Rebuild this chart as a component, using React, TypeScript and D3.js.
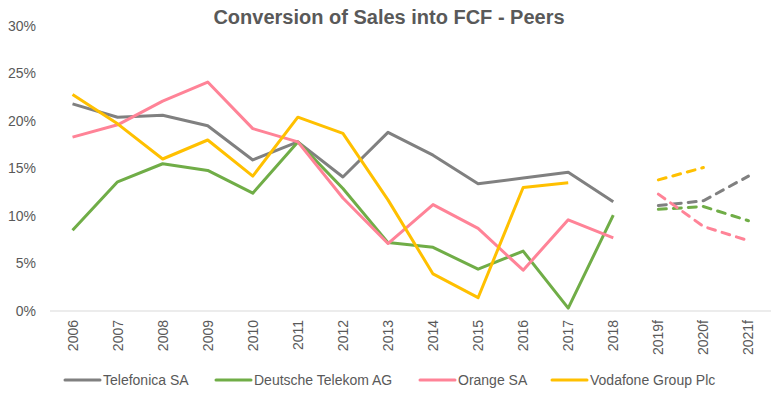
import React from "react";
import * as d3 from "d3";

// data
const years = ["2006", "2007", "2008", "2009", "2010", "2011", "2012", "2013", "2014", "2015", "2016", "2017", "2018", "2019f", "2020f", "2021f"];
const telefonica = [21.8, 20.4, 20.6, 19.5, 15.9, 17.8, 14.1, 18.8, 16.4, 13.4, 14.0, 14.6, 11.5, null, null, null];
const telefonicaF = [null, null, null, null, null, null, null, null, null, null, null, null, null, 11.1, 11.6, 14.2];
const telekom = [8.5, 13.6, 15.5, 14.8, 12.4, 17.8, 12.9, 7.2, 6.7, 4.4, 6.3, 0.3, 10.1, null, null, null];
const telekomF = [null, null, null, null, null, null, null, null, null, null, null, null, null, 10.7, 11.0, 9.5];
const orange = [18.3, 19.6, 22.1, 24.1, 19.2, 17.8, 11.9, 7.1, 11.2, 8.7, 4.3, 9.6, 7.7, null, null, null];
const orangeF = [null, null, null, null, null, null, null, null, null, null, null, null, null, 12.3, 8.9, 7.4];
const vodafone = [22.8, 19.7, 16.0, 18.0, 14.2, 20.4, 18.7, 11.7, 3.9, 1.4, 13.0, 13.5, null, null, null, null];
const vodafoneF = [null, null, null, null, null, null, null, null, null, null, null, null, null, 13.8, 15.1, null];
const yTicks = [0, 5, 10, 15, 20, 25, 30];

const series = [
  { name: "Telefonica SA", color: "#808080", actual: telefonica, forecast: telefonicaF },
  { name: "Deutsche Telekom AG", color: "#70AD47", actual: telekom, forecast: telekomF },
  { name: "Orange SA", color: "#FF8397", actual: orange, forecast: orangeF },
  { name: "Vodafone Group Plc", color: "#FFC000", actual: vodafone, forecast: vodafoneF },
];

const W = 778;
const H = 396;
const font = "'Liberation Sans', Arial, sans-serif";
const textColor = "#595959";

const App = () => {
  const x = d3.scaleBand<string>().domain(years).range([50, 771]);
  const y = d3.scaleLinear().domain([0, 30]).range([311, 26]);
  const cx = (i: number) => (x(years[i]) ?? 0) + x.bandwidth() / 2;

  const line = d3
    .line<number | null>()
    .defined((d) => d !== null)
    .x((_, i) => cx(i))
    .y((d) => y(d as number));

  // legend positions
  const legendX = [65, 216, 420, 552];

  return (
    <svg width={W} height={H} style={{ position: "absolute", left: 0, top: 0, background: "#fff" }}>
      <text x={389} y={24} textAnchor="middle" fontFamily={font} fontWeight="bold" fontSize={20} fill={textColor}>
        Conversion of Sales into FCF - Peers
      </text>

      {/* y axis labels */}
      {yTicks.map((t) => (
        <text key={t} x={36} y={y(t)} dy="0.35em" textAnchor="end" fontFamily={font} fontSize={14} fill={textColor}>
          {t}%
        </text>
      ))}

      {/* baseline */}
      <line x1={50} x2={771} y1={y(0)} y2={y(0)} stroke="#D9D9D9" strokeWidth={1} />

      {/* x labels */}
      {years.map((yr, i) => (
        <text
          key={yr}
          transform={`translate(${cx(i) + 5},${320}) rotate(-90)`}
          textAnchor="end"
          fontFamily={font}
          fontSize={14}
          fill={textColor}
        >
          {yr}
        </text>
      ))}

      {/* lines */}
      {series.map((s) => (
        <g key={s.name}>
          <path d={line(s.actual) ?? ""} fill="none" stroke={s.color} strokeWidth={3} strokeLinejoin="round" />
          <path
            d={line(s.forecast) ?? ""}
            fill="none"
            stroke={s.color}
            strokeWidth={3}
            strokeDasharray="8,7"
            strokeLinecap="round"
          />
        </g>
      ))}

      {/* legend */}
      {series.map((s, i) => (
        <g key={s.name} transform={`translate(${legendX[i]},380)`}>
          <line x1={0} x2={35} y1={0} y2={0} stroke={s.color} strokeWidth={3} strokeLinecap="round" />
          <text x={38} y={0} dy="0.35em" fontFamily={font} fontSize={14} fill={textColor}>
            {s.name}
          </text>
        </g>
      ))}
    </svg>
  );
};

export default App;
